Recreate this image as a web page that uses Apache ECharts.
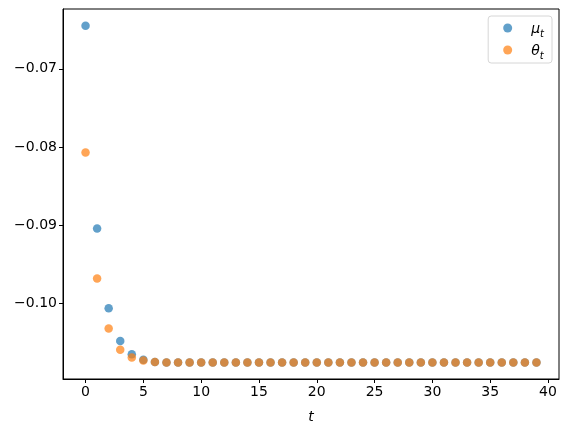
<!DOCTYPE html>
<html>
<head>
<meta charset="utf-8">
<script src="https://cdn.jsdelivr.net/npm/echarts@6/dist/echarts.min.js"></script>
<style>
  html, body { margin: 0; padding: 0; background: #fff; }
  #chart { width: 568px; height: 432px; }
</style>
</head>
<body>
<div id="chart"></div>
<script>
// time steps t = 0..39
const steps = Array.from({length: 40}, (_, i) => i);
// mu_t values
const muValues = [
  -0.0645, -0.0904, -0.1006, -0.1048, -0.1065, -0.1072, -0.10748, -0.10754, -0.10754, -0.10754,
  -0.10754, -0.10754, -0.10754, -0.10754, -0.10754, -0.10754, -0.10754, -0.10754, -0.10754, -0.10754,
  -0.10754, -0.10754, -0.10754, -0.10754, -0.10754, -0.10754, -0.10754, -0.10754, -0.10754, -0.10754,
  -0.10754, -0.10754, -0.10754, -0.10754, -0.10754, -0.10754, -0.10754, -0.10754, -0.10754, -0.10754
];
// theta_t values
const thetaValues = [
  -0.0807, -0.0968, -0.1032, -0.1059, -0.1069, -0.1073, -0.10748, -0.10754, -0.10754, -0.10754,
  -0.10754, -0.10754, -0.10754, -0.10754, -0.10754, -0.10754, -0.10754, -0.10754, -0.10754, -0.10754,
  -0.10754, -0.10754, -0.10754, -0.10754, -0.10754, -0.10754, -0.10754, -0.10754, -0.10754, -0.10754,
  -0.10754, -0.10754, -0.10754, -0.10754, -0.10754, -0.10754, -0.10754, -0.10754, -0.10754, -0.10754
];
const xTicks = [0, 5, 10, 15, 20, 25, 30, 35, 40];
const yTicks = [-0.10, -0.09, -0.08, -0.07];

const font = 'DejaVu Sans';
const chart = echarts.init(document.getElementById('chart'));

const option = {
  animation: false,
  textStyle: { fontFamily: font },
  grid: {
    left: 63, top: 9, right: 9, bottom: 53,
    show: true, borderColor: '#000', borderWidth: 1
  },
  legend: {
    orient: 'vertical',
    right: 16,
    top: 16,
    padding: [6, 8, 2, 15],
    itemGap: 5,
    itemWidth: 9,
    itemHeight: 9,
    icon: 'circle',
    backgroundColor: '#fff',
    borderColor: '#d6d6d6',
    borderWidth: 1,
    borderRadius: 3,
    data: ['mu', 'theta'],
    formatter: function (name) {
      return name === 'mu' ? '{g|μ}{s|t}' : '{g|θ}{s|t}';
    },
    textStyle: {
      padding: [0, 0, 0, 14],
      rich: {
        g: { fontFamily: font, fontStyle: 'italic', fontSize: 14, color: '#000', verticalAlign: 'bottom', lineHeight: 16 },
        s: { fontFamily: font, fontStyle: 'italic', fontSize: 10, color: '#000', verticalAlign: 'bottom', lineHeight: 10, padding: [0, 0, -3, 0] }
      }
    }
  },
  xAxis: {
    type: 'value',
    min: -1.95,
    max: 40.95,
    name: 't',
    nameLocation: 'middle',
    nameGap: 31,
    nameTextStyle: { fontFamily: font, fontStyle: 'italic', fontSize: 14, color: '#000' },
    axisLine: { onZero: false, lineStyle: { color: '#000', width: 1 } },
    axisTick: { show: true, length: 4, lineStyle: { color: '#000' }, customValues: xTicks },
    axisLabel: { color: '#000', fontSize: 14, margin: 6, customValues: xTicks },
    splitLine: { show: false }
  },
  yAxis: {
    type: 'value',
    min: -0.10965,
    max: -0.06235,
    axisLine: { show: true, onZero: false, lineStyle: { color: '#000', width: 1 } },
    axisTick: { show: true, length: 4, lineStyle: { color: '#000' }, customValues: yTicks },
    axisLabel: {
      color: '#000', fontSize: 14, margin: 6, customValues: yTicks,
      formatter: v => '\u2212' + Math.abs(v).toFixed(2)
    },
    splitLine: { show: false }
  },
  series: [
    {
      name: 'mu',
      type: 'scatter',
      symbolSize: 8.5,
      itemStyle: { color: '#1f77b4', opacity: 0.7 },
      data: steps.map((t, i) => [t, muValues[i]])
    },
    {
      name: 'theta',
      type: 'scatter',
      symbolSize: 8.5,
      itemStyle: { color: '#ff7f0e', opacity: 0.7 },
      data: steps.map((t, i) => [t, thetaValues[i]])
    }
  ]
};
chart.setOption(option);
</script>
</body>
</html>
